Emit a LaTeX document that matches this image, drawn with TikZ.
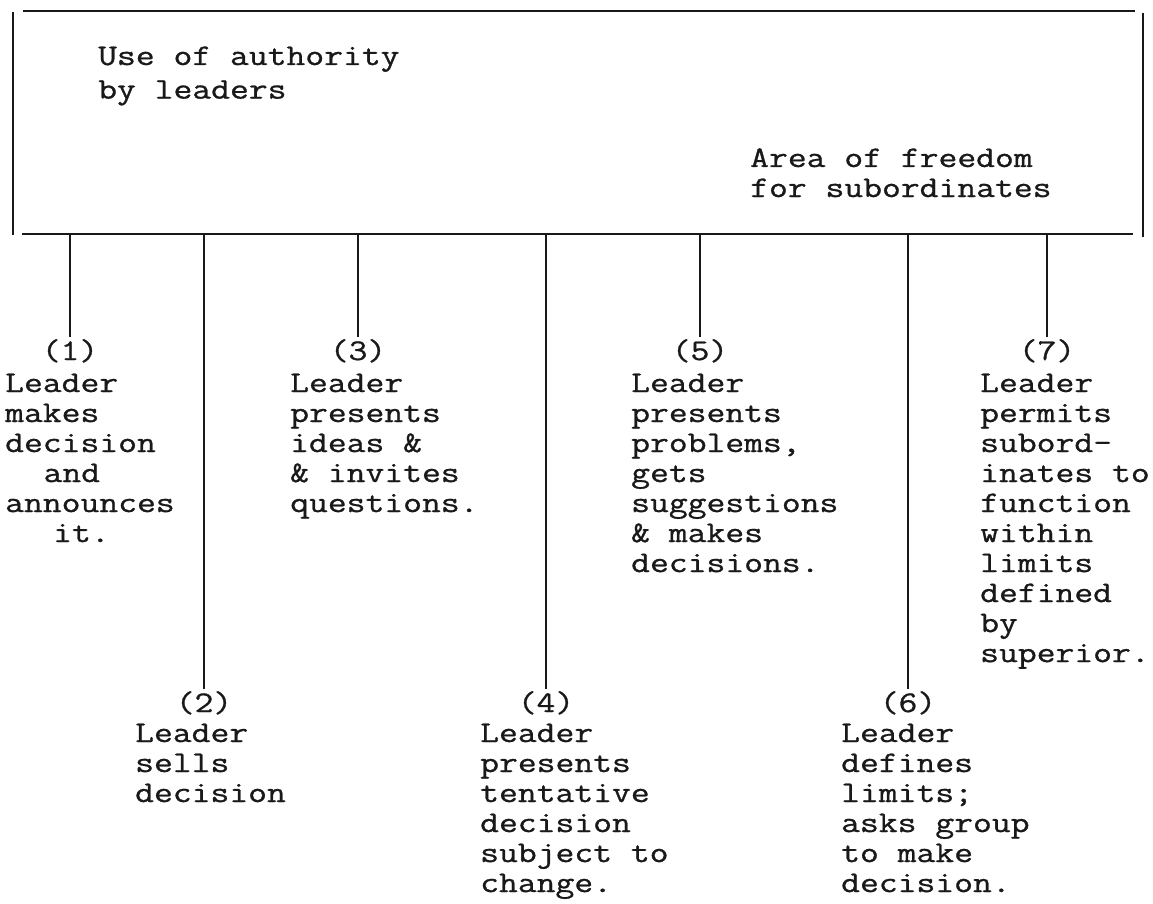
\documentclass[tikz,border=0pt]{standalone}
\usepackage{graphicx}
\usepackage{fontspec}
% typewriter face, slightly heavier strokes
\newfontfamily\typew{lmmono12-regular.otf}[RawFeature={embolden=0.8}]
% one character cell of the typewriter face used below
\newlength\cw \setlength\cw{19.2pt}
\newcommand\mfont{\fontsize{36.57}{37}\selectfont\typew}
\newcommand\vsq[1]{\scalebox{1}[0.82]{#1}}
% left-aligned stack of lines, reference point on the first baseline
\newcommand\lineblock[2]{\vsq{\vtop{\baselineskip=#1\lineskiplimit=-\maxdimen\lineskip=0pt\halign{##\hfil\cr#2\crcr}}}}
\newcommand\ind[1]{\hspace*{#1\cw}}
\tikzset{
  frame/.style={line width=2pt, draw=black!90},
  tick/.style={line width=1.5pt, draw=black!90},
  txt/.style={font=\mfont, inner sep=0pt, anchor=base west, text=black!90},
  num/.style={font=\mfont, inner sep=2pt, anchor=base, text=black!90},
}
\begin{document}
\begin{tikzpicture}[x=1pt,y=-1pt]
\useasboundingbox (0,0) rectangle (1153,904);
\fill[white] (0,0) rectangle (1153,904);

% the frame
\draw[frame] (23,11) -- (1135,11);
\draw[frame] (13,12) -- (13,235);
\draw[frame] (22,234) -- (1133,234);
\draw[frame] (1143,13) -- (1143,237);

% texts inside the frame
\node[txt] (auth) at (98,65) {\lineblock{41pt}{Use of authority\cr by leaders}};
\node[txt] (free) at (750,167) {\lineblock{36.6pt}{Area of freedom\cr for subordinates}};

% points on the lower edge of the frame
\coordinate (b1) at (70,234);
\coordinate (b2) at (204,234);
\coordinate (b3) at (358,234);
\coordinate (b4) at (546,234);
\coordinate (b5) at (700,234);
\coordinate (b6) at (908,234);
\coordinate (b7) at (1047,234);

% numbers
\node[num] (n1) at (70,360) {\vsq{(1)}};
\node[num] (n2) at (204,712) {\vsq{(2)}};
\node[num] (n3) at (358,360) {\vsq{(3)}};
\node[num] (n4) at (546,712) {\vsq{(4)}};
\node[num] (n5) at (700,360) {\vsq{(5)}};
\node[num] (n6) at (908,712) {\vsq{(6)}};
\node[num] (n7) at (1047,360) {\vsq{(7)}};

% descriptions
\node[txt] (d1) at (5,392) {\lineblock{36.6pt}{Leader\cr makes\cr decision\cr \ind{2}and\cr announces\cr \ind{2.5}it.}};
\node[txt] (d2) at (135,742) {\lineblock{36.6pt}{Leader\cr sells\cr decision}};
\node[txt] (d3) at (290,392) {\lineblock{36.6pt}{Leader\cr presents\cr ideas \&\cr \& invites\cr questions.}};
\node[txt] (d4) at (480,742) {\lineblock{36.6pt}{Leader\cr presents\cr tentative\cr decision\cr subject to\cr change.}};
\node[txt] (d5) at (631,392) {\lineblock{36.6pt}{Leader\cr presents\cr problems,\cr gets\cr suggestions\cr \& makes\cr decisions.}};
\node[txt] (d6) at (841,742) {\lineblock{36.6pt}{Leader\cr defines\cr limits;\cr asks group\cr to make\cr decision.}};
\node[txt] (d7) at (980,392) {\lineblock{36.6pt}{Leader\cr permits\cr subord-\cr inates to\cr function\cr within\cr limits\cr defined\cr by\cr superior.}};

% connectors
\foreach \i in {1,...,7} \draw[tick] (b\i) -- (n\i.north);
\end{tikzpicture}
\end{document}
